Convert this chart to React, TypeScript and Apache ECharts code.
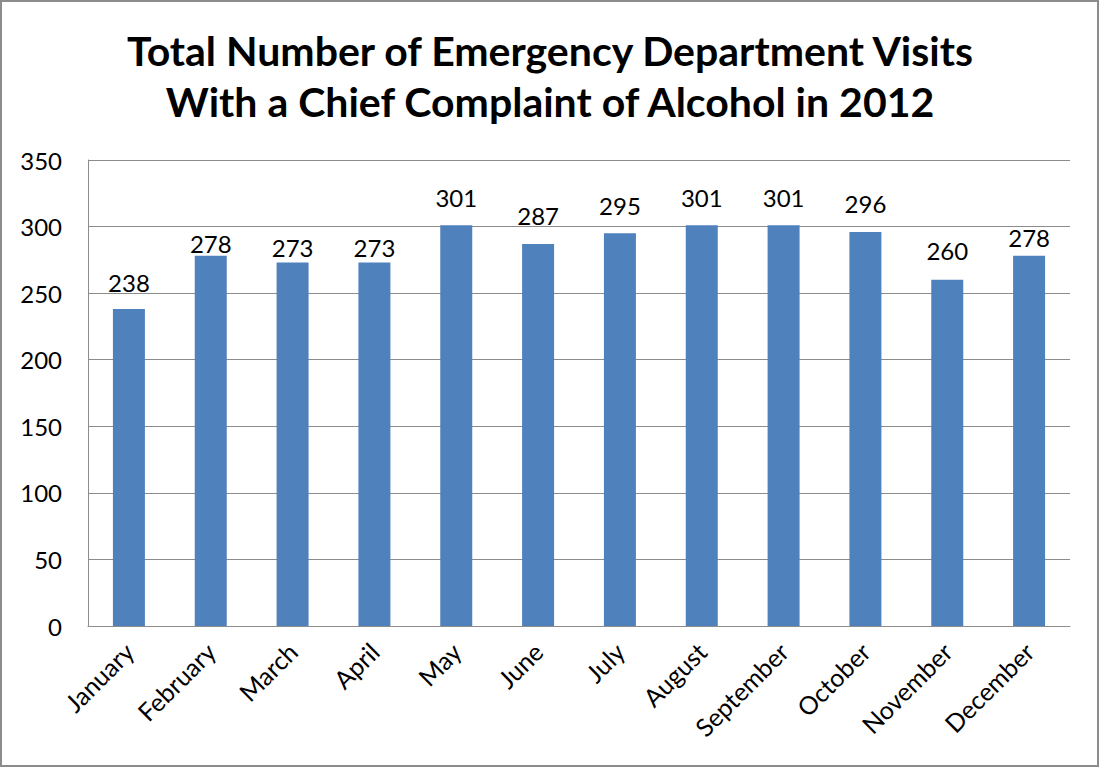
import React, { useEffect, useRef } from "react";
import * as echarts from "echarts";

const months = ["January", "February", "March", "April", "May", "June", "July", "August", "September", "October", "November", "December"];
const visits = [238, 278, 273, 273, 301, 287, 295, 301, 301, 296, 260, 278];
const labelGaps = [15, 0, 3, 3, 16, 16, 16, 16, 16, 16, 17, 6];
const titleText = "Total Number of Emergency Department Visits\nWith a Chief Complaint of Alcohol in 2012";

export default function App() {
  const ref = useRef<HTMLDivElement>(null);
  useEffect(() => {
    if (!ref.current) return;
    const chart = echarts.init(ref.current, null, { renderer: "svg" });
    chart.setOption({
      animation: false,
      backgroundColor: "#ffffff",
      title: {
        text: titleText,
        left: "center",
        top: 20,
        textStyle: { fontFamily: "Lato", fontWeight: "bold", fontSize: 41, lineHeight: 51, color: "#000" },
      },
      graphic: [
        { type: "rect", shape: { x: 1, y: 1, width: 1097, height: 765 }, style: { fill: "none", stroke: "#8c8c8c", lineWidth: 2 }, silent: true },
      ],
      grid: { left: 88, right: 30, top: 160, bottom: 142 },
      xAxis: {
        type: "category",
        data: months,
        axisLine: { lineStyle: { color: "#8c8c8c", width: 1 } },
        axisTick: { show: false },
        axisLabel: { rotate: 45, fontFamily: "Lato", fontSize: 25, color: "#000", margin: 21, interval: 0 },
      },
      yAxis: {
        type: "value",
        min: 0,
        max: 350,
        interval: 50,
        axisLine: { show: true, lineStyle: { color: "#8c8c8c", width: 1 } },
        axisTick: { show: false },
        splitLine: { lineStyle: { color: "#8c8c8c", width: 1 } },
        axisLabel: { fontFamily: "Lato", fontSize: 24, color: "#000", margin: 26 },
      },
      series: [
        {
          type: "bar",
          data: visits.map((v, i) => ({ value: v, label: { distance: labelGaps[i] } })),
          barWidth: 32,
          itemStyle: { color: "#4F81BD" },
          label: { show: true, position: "top", fontFamily: "Lato", fontSize: 24, color: "#000" },
        },
      ],
    });
    return () => chart.dispose();
  }, []);
  return <div ref={ref} style={{ position: "absolute", left: 0, top: 0, width: 1100, height: 768 }} />;
}
